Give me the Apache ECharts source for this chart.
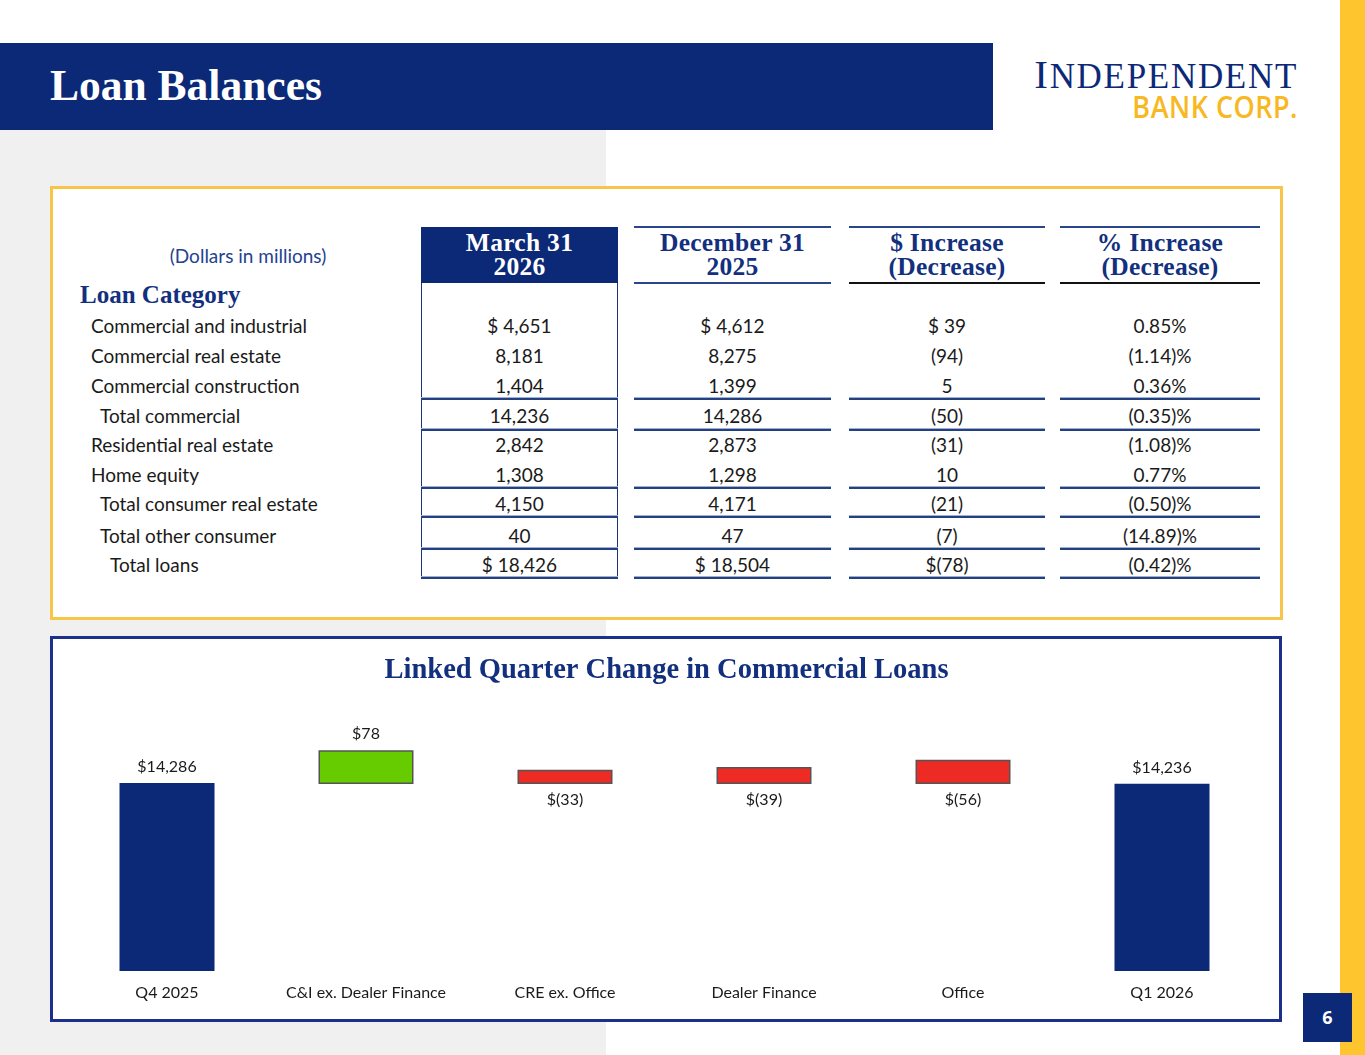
<!DOCTYPE html>
<html>
<head>
<meta charset="utf-8">
<script src="https://cdn.jsdelivr.net/npm/echarts@6/dist/echarts.min.js"></script>
<style>
  html, body { margin:0; padding:0; }
  body { width:1365px; height:1055px; position:relative; overflow:hidden; background:#ffffff; font-family: Lato, "Open Sans", sans-serif; }
  .abs { position:absolute; }
  #graypanel { left:0; top:130px; width:606px; height:925px; background:#f0f0f0; }
  #stripe { left:1340px; top:0; width:25px; height:1055px; background:#fec52e; }
  #header { left:0; top:43px; width:993px; height:87px; background:#0c2977; }
  #title { left:50px; top:58px; color:#fff; font-family:"Liberation Serif", serif; font-weight:bold; font-size:43.5px; line-height:54px; }
  #logo1 { left:990px; top:52px; width:308px; text-align:right; color:#0c2977; font-family:"Liberation Serif", serif; line-height:44px; letter-spacing:1.7px; white-space:nowrap; }
  #logo1 .big { font-size:41px; }
  #logo1 .rest { font-size:35px; }
  #logo2 { left:1080px; top:90px; width:218px; text-align:right; color:#f8b822; font-family:"Open Sans", sans-serif; font-weight:600; font-size:27px; line-height:30px; letter-spacing:0.5px; transform:scaleY(1.12); transform-origin:right top; }
  #pagenum { left:1303px; top:993px; width:49px; height:49px; background:#0c2977; color:#fff; font-family:"Open Sans", sans-serif; font-weight:bold; font-size:18px; line-height:49px; text-align:center; }
  #tablebox { left:50px; top:186px; width:1227px; height:428px; border:3px solid #f7c548; background:#fff; }
  #chartbox { left:50px; top:636px; width:1226px; height:380px; border:3px solid #1b2f8c; background:#fff; }
  .cell { position:absolute; text-align:center; font-size:19px; color:#1a1a1a; line-height:22px; white-space:nowrap; }
  .lbl { position:absolute; font-size:19px; color:#1a1a1a; line-height:22px; white-space:nowrap; }
  .hdr { position:absolute; text-align:center; font-family:"Liberation Serif", serif; font-weight:bold; font-size:25.5px; line-height:24px; letter-spacing:0.3px; color:#12307e; white-space:nowrap; }
  .sep { position:absolute; height:2px; background:#24407f; box-shadow:0 -1px 0 #9fb0d6; }
</style>
</head>
<body>
<div class="abs" id="graypanel"></div>
<div class="abs" id="stripe"></div>
<div class="abs" id="header"></div>
<div class="abs" id="title">Loan Balances</div>
<div class="abs" id="logo1"><span class="big">I</span><span class="rest">NDEPENDENT</span></div>
<div class="abs" id="logo2">BANK CORP.</div>
<div class="abs" id="tablebox"></div>
<div class="abs" id="chartbox"></div>
<div class="abs" id="tablelayer" style="left:0;top:0;width:1365px;height:1055px;"></div>
<div class="abs" id="chart" style="left:54px;top:640px;width:1225px;height:378px;"></div>
<div class="abs" id="pagenum">6</div>
<script>
// ---------- Table data ----------
const unitsNote = '(Dollars in millions)';
const tableHeading = 'Loan Category';
const columnHeaders = [['March 31', '2026'], ['December 31', '2025'], ['$ Increase', '(Decrease)'], ['% Increase', '(Decrease)']];
const rowLabels = ['Commercial and industrial', 'Commercial real estate', 'Commercial construction', 'Total commercial',
  'Residential real estate', 'Home equity', 'Total consumer real estate', 'Total other consumer', 'Total loans'];
const march2026 = ['$ 4,651', '8,181', '1,404', '14,236', '2,842', '1,308', '4,150', '40', '$ 18,426'];
const december2025 = ['$ 4,612', '8,275', '1,399', '14,286', '2,873', '1,298', '4,171', '47', '$ 18,504'];
const dollarChange = ['$ 39', '(94)', '5', '(50)', '(31)', '10', '(21)', '(7)', '$(78)'];
const percentChange = ['0.85%', '(1.14)%', '0.36%', '(0.35)%', '(1.08)%', '0.77%', '(0.50)%', '(14.89)%', '(0.42)%'];

// ---------- Chart data ----------
const chartTitle = 'Linked Quarter Change in Commercial Loans';
const categories = ['Q4 2025', 'C&I ex. Dealer Finance', 'CRE ex. Office', 'Dealer Finance', 'Office', 'Q1 2026'];
const totals = [14286, null, null, null, null, 14236];
const changes = [null, 78, -33, -39, -56, null];

// ---------- Table layout (styles only) ----------
const rowCenters = [326, 356, 386, 416, 445, 475, 504, 536, 565];
const rowIndent = [91, 91, 91, 100, 91, 91, 100, 100, 110];
const sepAfter = {2: 398, 3: 429, 5: 487, 6: 516, 7: 548, 8: 577};
const cols = [[421, 618], [634, 831], [849, 1045], [1060, 1260]];
const colData = [march2026, december2025, dollarChange, percentChange];

const layer = document.getElementById('tablelayer');
function add(cls, css, text) {
  const d = document.createElement('div');
  d.className = cls;
  Object.assign(d.style, css);
  if (text !== undefined) d.textContent = text;
  layer.appendChild(d);
  return d;
}
// first column framed box with header fill
add('', {position:'absolute', left:'421px', top:'227px', width:'195px', height:'350px', border:'1px solid #1c3478'});
add('', {position:'absolute', left:'421px', top:'227px', width:'197px', height:'56px', background:'#0c2977'});
// header lines for other columns
cols.slice(1).forEach((c, i) => {
  add('', {position:'absolute', left:c[0]+'px', top:'226px', width:(c[1]-c[0])+'px', height:'2px', background:'#2a458a'});
  add('', {position:'absolute', left:c[0]+'px', top:'282px', width:(c[1]-c[0])+'px', height:'2px', background: i === 0 ? '#2a458a' : '#111'});
});
columnHeaders.forEach((h, i) => {
  const c = cols[i];
  const el = add('hdr', {left:c[0]+'px', top:'231px', width:(c[1]-c[0])+'px', color: i === 0 ? '#ffffff' : '#12307e'});
  el.innerHTML = h[0] + '<br>' + h[1];
});
add('lbl', {left:'118px', top:'245px', width:'260px', textAlign:'center', color:'#25428f', fontSize:'19px'}, unitsNote);
add('hdr', {left:'80px', top:'283px', textAlign:'left', fontSize:'25px', letterSpacing:'0'}, tableHeading);
rowLabels.forEach((lab, r) => {
  add('lbl', {left:rowIndent[r]+'px', top:(rowCenters[r]-11)+'px'}, lab);
  colData.forEach((arr, ci) => {
    const c = cols[ci];
    add('cell', {left:c[0]+'px', top:(rowCenters[r]-11)+'px', width:(c[1]-c[0])+'px'}, arr[r]);
  });
  if (sepAfter[r] !== undefined) {
    cols.forEach(c => {
      add('sep', {left:c[0]+'px', top:sepAfter[r]+'px', width:(c[1]-c[0])+'px'});
    });
  }
});

// ---------- Chart ----------
function money(v) {
  const s = Math.abs(v).toLocaleString('en-US');
  return v < 0 ? '$(' + s + ')' : '$' + s;
}
const chart = echarts.init(document.getElementById('chart'));
const labelFont = {fontFamily: 'Lato, "Open Sans", sans-serif', fontSize: 16, color: '#1a1a1a'};
chart.setOption({
  animation: false,
  title: {
    text: chartTitle, left: 'center', top: 11,
    textStyle: {fontFamily: '"Liberation Serif", serif', fontWeight: 'bold', fontSize: 28.5, color: '#12307e'}
  },
  grid: {left: 13.5, right: 17.5, top: 60, bottom: 47},
  xAxis: {
    type: 'category', data: categories,
    axisLine: {show: false}, axisTick: {show: false},
    axisLabel: Object.assign({margin: 14, interval: 0}, labelFont)
  },
  yAxis: [
    {type: 'value', min: 0, max: 20600, show: false, splitLine: {show: false}},
    {type: 'value', min: -435, max: 195, show: false, splitLine: {show: false}}
  ],
  series: [
    {
      type: 'bar', yAxisIndex: 0, barWidth: 95, barGap: '-100%',
      data: totals.map(v => v === null ? '-' : v),
      itemStyle: {color: '#0c2977'},
      label: Object.assign({show: true, position: 'top', distance: 8, formatter: p => money(p.value)}, labelFont)
    },
    {
      type: 'bar', yAxisIndex: 1, barWidth: 95, barGap: '-100%',
      data: changes.map(v => v === null ? '-' : {
        value: Math.abs(v),
        itemStyle: {color: v >= 0 ? '#66cc00' : '#ee2a24', borderColor: '#555555', borderWidth: 1.5},
        label: {position: v >= 0 ? 'top' : 'bottom'}
      }),
      label: Object.assign({show: true, distance: 8, formatter: p => money(changes[p.dataIndex])}, labelFont)
    }
  ]
});
</script>
</body>
</html>
